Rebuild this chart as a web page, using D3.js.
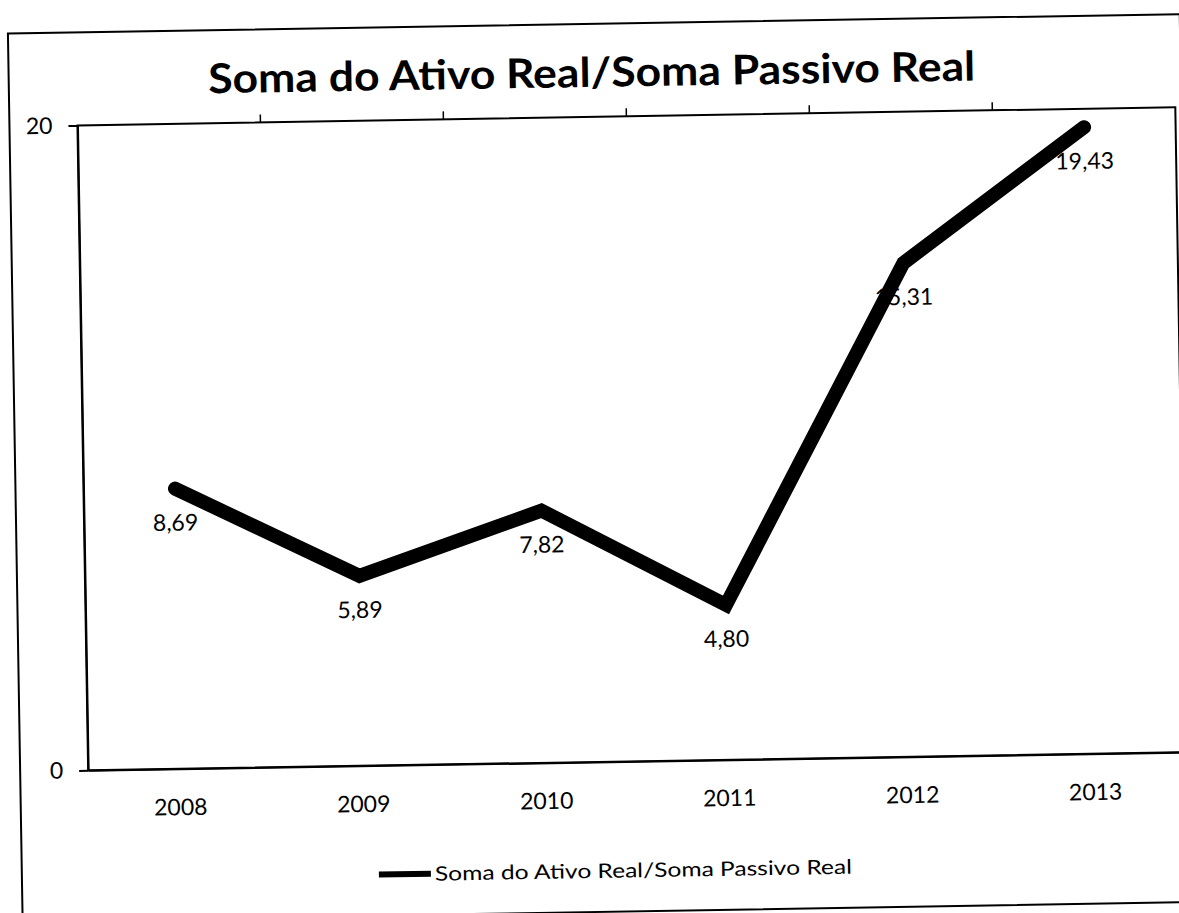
<!DOCTYPE html>
<html>
<head>
<meta charset="utf-8">
<script src="https://cdn.jsdelivr.net/npm/d3@7"></script>
<style>
  body { margin: 0; background: #fff; }
  svg { display: block; }
  text { font-family: Lato, "Open Sans", sans-serif; fill: #000; }
</style>
</head>
<body>
<div id="chart"></div>
<script>
"use strict";

// data
var years = ["2008", "2009", "2010", "2011", "2012", "2013"];
var values = [8.69, 5.89, 7.82, 4.80, 15.31, 19.43];
var yTicks = [0, 20];
var title = "Soma do Ativo Real/Soma Passivo Real";
var seriesName = "Soma do Ativo Real/Soma Passivo Real";

var W = 1179, H = 913;
var plot = { left: 83, right: 1181, top: 117, bottom: 762 };

// pt-BR number format (decimal comma)
var br = d3.formatLocale({ decimal: ",", thousands: ".", grouping: [3], currency: ["R$", ""] });
var fmt = br.format(".2f");

var svg = d3.select("#chart").append("svg")
  .attr("width", W)
  .attr("height", H);

// the page was scanned a little crooked, so the whole chart is turned slightly
var g = svg.append("g")
  .attr("transform", "rotate(-0.95," + 590 + "," + 456 + ")");

// outer chart border
g.append("rect")
  .attr("x", 15).attr("y", 24)
  .attr("width", 1172).attr("height", 888)
  .attr("fill", "none").attr("stroke", "#000").attr("stroke-width", 2);

// Title
g.append("text")
  .attr("x", 598).attr("y", 87)
  .attr("text-anchor", "middle")
  .attr("font-size", 41)
  .attr("font-weight", "bold")
  .attr("textLength", 767)
  .attr("lengthAdjust", "spacingAndGlyphs")
  .text(title);

// Scales
var x = d3.scalePoint()
  .domain(years)
  .range([plot.left, plot.right])
  .padding(0.5);

var band = d3.scaleBand()
  .domain(years)
  .range([plot.left, plot.right]);

var y = d3.scaleLinear()
  .domain([0, 20])
  .range([plot.bottom, plot.top]);

// plot area border
g.append("rect")
  .attr("x", plot.left).attr("y", plot.top)
  .attr("width", plot.right - plot.left).attr("height", plot.bottom - plot.top)
  .attr("fill", "none").attr("stroke", "#000").attr("stroke-width", 2);

// little tick marks on the top edge, between categories
g.selectAll(".topTick")
  .data(years.slice(1))
  .enter()
  .append("line")
  .attr("x1", function (d) { return band(d); })
  .attr("x2", function (d) { return band(d); })
  .attr("y1", plot.top)
  .attr("y2", plot.top - 8)
  .attr("stroke", "#000")
  .attr("stroke-width", 1.5);

// Y axis
var yAxis = d3.axisLeft(y)
  .tickValues(yTicks)
  .tickSize(9)
  .tickSizeOuter(0)
  .tickPadding(16)
  .tickFormat(d3.format("d"));
var ya = g.append("g")
  .attr("transform", "translate(" + plot.left + ",0)")
  .call(yAxis);
ya.selectAll("path, line").attr("stroke", "#000").attr("stroke-width", 2);
ya.selectAll("text").attr("font-size", 23).attr("font-family", "Lato, sans-serif").attr("fill", "#000");

// X axis (labels only, the line is the plot border)
var xAxis = d3.axisBottom(x)
  .tickSize(0)
  .tickPadding(30);
var xa = g.append("g")
  .attr("transform", "translate(0," + plot.bottom + ")")
  .call(xAxis);
xa.select(".domain").attr("stroke", "#000").attr("stroke-width", 2);
xa.selectAll("text").attr("font-size", 23).attr("font-family", "Lato, sans-serif").attr("fill", "#000");

// Line
var line = d3.line()
  .x(function (d, i) { return x(years[i]); })
  .y(function (d) { return y(d); });

g.append("path")
  .datum(values)
  .attr("d", line)
  .attr("fill", "none")
  .attr("stroke", "#000")
  .attr("stroke-width", 14)
  .attr("stroke-linejoin", "miter")
  .attr("stroke-linecap", "round");

// Data labels below the points
g.selectAll(".lbl")
  .data(values)
  .enter()
  .append("text")
  .attr("x", function (d, i) { return x(years[i]); })
  .attr("y", function (d) { return y(d) + 42; })
  .attr("text-anchor", "middle")
  .attr("font-size", 23)
  .text(function (d) { return fmt(d); });

// Legend
g.append("line")
  .attr("x1", 372).attr("x2", 424)
  .attr("y1", 871).attr("y2", 871)
  .attr("stroke", "#000")
  .attr("stroke-width", 6);
g.append("text")
  .attr("x", 428).attr("y", 878)
  .attr("font-size", 20)
  .attr("textLength", 417)
  .attr("lengthAdjust", "spacingAndGlyphs")
  .text(seriesName);
</script>
</body>
</html>
